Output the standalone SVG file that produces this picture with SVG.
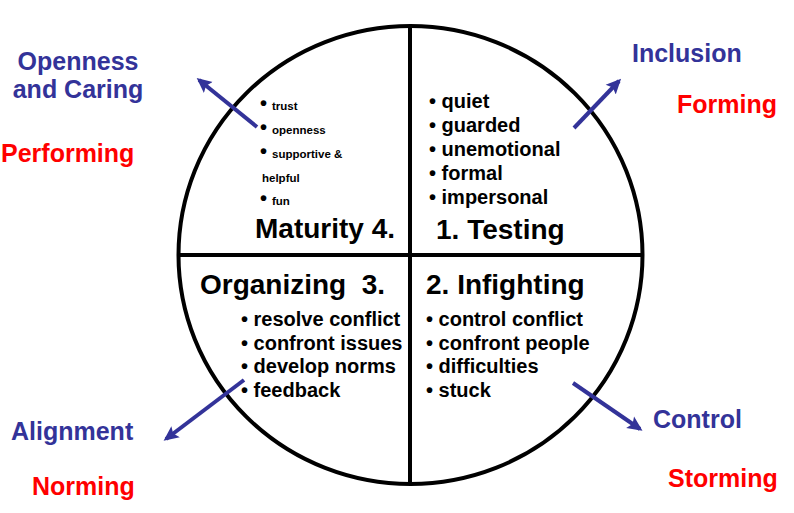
<svg xmlns="http://www.w3.org/2000/svg" width="794" height="513" viewBox="0 0 794 513">
<defs>
<marker id="ah" markerWidth="10" markerHeight="10" refX="6" refY="5" orient="auto" markerUnits="userSpaceOnUse" viewBox="0 0 10 10">
<path d="M0,0 L10,5 L0,10 L2,5 Z" fill="#333399" transform="scale(1)"/>
</marker>
<marker id="ah2" markerWidth="16" markerHeight="16" refX="12" refY="8" orient="auto" markerUnits="userSpaceOnUse">
<path d="M0,1 L15,8 L0,15 L3,8 Z" fill="#333399"/>
</marker>
</defs>
<style>
text{font-family:"Liberation Sans",Arial,sans-serif;font-weight:bold}
.lbl{font-size:25px;fill:#333399}
.stg{font-size:25px;fill:#ff0000}
.li{font-size:20px;fill:#000}
.hd{font-size:28px;fill:#000;white-space:pre}
.sm{font-size:11.5px;fill:#000}
.bul{font-size:20px;fill:#000}
.arr{stroke:#333399;stroke-width:4;fill:none;marker-end:url(#ah2)}
</style>
<rect width="794" height="513" fill="#fff"/>
<g id="circle">
<ellipse cx="410.5" cy="255" rx="232" ry="229" fill="none" stroke="#000" stroke-width="4"/>
<line x1="410" y1="26" x2="410" y2="484" stroke="#000" stroke-width="4"/>
<line x1="178" y1="255" x2="643" y2="255" stroke="#000" stroke-width="4"/>
</g>
<g id="connectors">
<line class="arr" x1="257" y1="127" x2="199" y2="80"/>
<line class="arr" x1="574" y1="128" x2="619" y2="81"/>
<line class="arr" x1="244" y1="380" x2="166" y2="439"/>
<line class="arr" x1="573" y1="383" x2="640" y2="429"/>
</g>
<g id="q-maturity">
<text class="bul" x="260" y="110">•</text><text class="sm" x="272" y="110">trust</text>
<text class="bul" x="260" y="134">•</text><text class="sm" x="272" y="134">openness</text>
<text class="bul" x="260" y="158">•</text><text class="sm" x="272" y="158">supportive &amp;</text>
<text class="sm" x="262" y="182">helpful</text>
<text class="bul" x="260" y="205">•</text><text class="sm" x="272" y="205">fun</text>
<text class="hd" x="255" y="238">Maturity 4.</text>
</g>
<g id="q-testing">
<text class="li" x="429" y="108">• quiet</text>
<text class="li" x="429" y="132">• guarded</text>
<text class="li" x="429" y="156">• unemotional</text>
<text class="li" x="429" y="180">• formal</text>
<text class="li" x="429" y="204">• impersonal</text>
<text class="hd" x="436" y="239">1. Testing</text>
</g>
<g id="q-organizing">
<text class="hd" x="200" y="294">Organizing  3.</text>
<text class="li" x="241" y="326">• resolve conflict</text>
<text class="li" x="241" y="350">• confront issues</text>
<text class="li" x="241" y="373">• develop norms</text>
<text class="li" x="241" y="397">• feedback</text>
</g>
<g id="q-infighting">
<text class="hd" x="426" y="294">2. Infighting</text>
<text class="li" x="426" y="326">• control conflict</text>
<text class="li" x="426" y="350">• confront people</text>
<text class="li" x="426" y="373">• difficulties</text>
<text class="li" x="426" y="397">• stuck</text>
</g>
<g id="performing">
<text class="lbl" x="78" y="70" text-anchor="middle">Openness</text>
<text class="lbl" x="78" y="98" text-anchor="middle">and Caring</text>
<text class="stg" x="1" y="162">Performing</text>
</g>
<g id="forming">
<text class="lbl" x="632" y="62">Inclusion</text>
<text class="stg" x="677" y="113">Forming</text>
</g>
<g id="norming">
<text class="lbl" x="11" y="440">Alignment</text>
<text class="stg" x="32" y="495">Norming</text>
</g>
<g id="storming">
<text class="lbl" x="653" y="428">Control</text>
<text class="stg" x="668" y="487">Storming</text>
</g>
</svg>
